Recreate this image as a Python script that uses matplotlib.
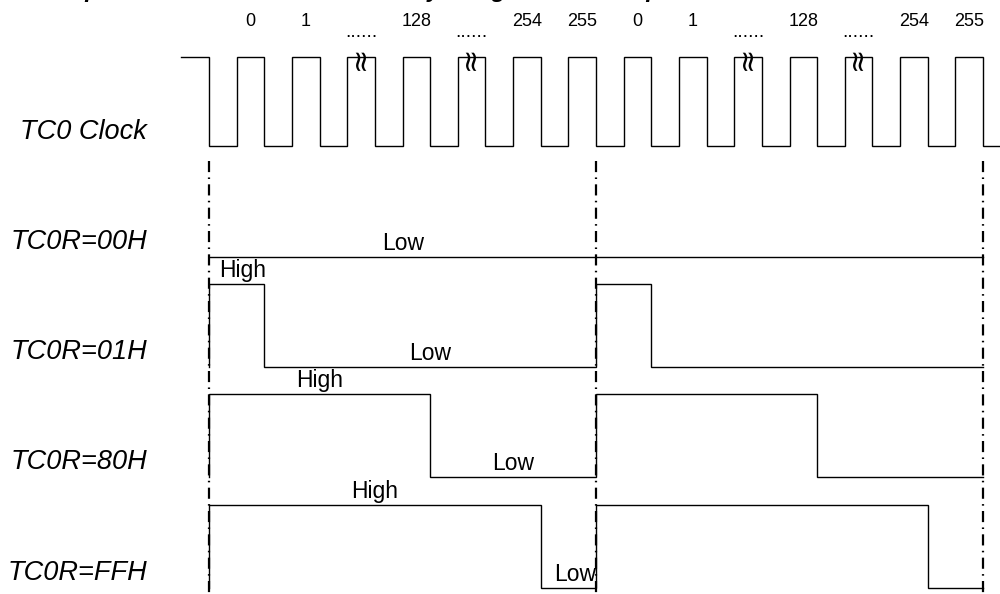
import matplotlib.pyplot as plt

# time axis in TC0 clock periods, t = 0 at the start of the first PWM cycle
clock_start = -0.5
clock_end = 14.31
clock_falls = list(range(15))
pulse_labels = ["0", "1", "......", "128", "......", "254", "255",
                "0", "1", "......", "128", "......", "254", "255"]
break_marks = ["......"]

cycle_starts = [0, 7]
cycle_len = 7
cycle_marks = [0, 7, 14]

row_names = ["TC0R=00H", "TC0R=01H", "TC0R=80H", "TC0R=FFH"]
high_clocks = [0, 1, 4, 6]

# (row, t, level, text)
level_labels = [
    (0, 3.51, "low", "Low"),
    (1, 0.60, "high", "High"), (1, 4.00, "low", "Low"),
    (2, 2.00, "high", "High"), (2, 5.50, "low", "Low"),
    (3, 3.00, "high", "High"), (3, 6.62, "low", "Low"),
]

title = "Figure 8-4 The Relationship between TC0R and PWM Duty Range of TC0 Output"

# layout (pixels)
px0 = 209.0
px_per_clk = 55.29
clk_hi, clk_lo = 57, 146
row_lo = [257, 367, 477, 588]
row_amp = 83

FONT = ["Liberation Sans", "DejaVu Sans"]
LW = 1.0


def main():
    fig = plt.figure(figsize=(10, 5.94), dpi=100)
    ax = fig.add_axes([0, 0, 1, 1])
    ax.set_xlim(-px0 / px_per_clk, (1000 - px0) / px_per_clk)
    ax.set_ylim(594, 0)
    ax.axis("off")

    # clock waveform
    xs, ys = [clock_start], [clk_hi]
    for k in clock_falls:
        xs += [k, k]
        ys += [clk_hi, clk_lo]
        if k != clock_falls[-1]:
            xs += [k + 0.5, k + 0.5]
            ys += [clk_lo, clk_hi]
    xs.append(clock_end)
    ys.append(clk_lo)
    ax.plot(xs, ys, color="black", lw=LW, solid_joinstyle="miter")

    for k, lab in enumerate(pulse_labels):
        t = k + 0.75
        if lab in break_marks:
            ax.text(t, 37, lab, ha="center", va="baseline", fontsize=14,
                    family=FONT)
            ax.text(t - 0.03, clk_hi + 1, "\u2248", rotation=90, ha="center",
                    va="center", fontsize=21, family=["DejaVu Sans"])
        else:
            ax.text(t, 22, lab, ha="center", va="center", fontsize=13,
                    family=FONT)

    # PWM output rows
    for r, h in enumerate(high_clocks):
        lo = row_lo[r]
        hi = lo - row_amp
        if h == 0:
            ax.plot([0, 14], [lo, lo], color="black", lw=LW)
            continue
        xs, ys = [], []
        for c in cycle_starts:
            xs += [c, c, c + h, c + h, c + cycle_len]
            ys += [lo, hi, hi, lo, lo]
        ax.plot(xs, ys, color="black", lw=LW, solid_joinstyle="miter")

    for r, t, lvl, txt in level_labels:
        y = row_lo[r] - (row_amp if lvl == "high" else 0) - 7
        ax.text(t, y, txt, ha="center", va="baseline", fontsize=16.5,
                family=FONT)

    # cycle boundaries
    for c in cycle_marks:
        ax.plot([c, c], [161, 594], color="black", lw=1.6,
                linestyle=(0, (5.0, 2.4, 0.7, 2.4)))

    # row names
    lab_x = (147 - px0) / px_per_clk
    ax.text(lab_x, 132, "TC0 Clock", ha="right", va="center", fontsize=19.5,
            style="italic", family=FONT)
    for r, name in enumerate(row_names):
        ax.text(lab_x, row_lo[r] - 15, name, ha="right", va="center",
                fontsize=19.5, style="italic", family=FONT)

    # caption, cut off at the top edge as in the source
    fig.text(-0.21, 1 + 3 / 594, title, ha="left", va="baseline",
             fontsize=17, weight="bold", style="italic", family=FONT)

    fig.savefig("out.png", dpi=100)


if __name__ == "__main__":
    main()
